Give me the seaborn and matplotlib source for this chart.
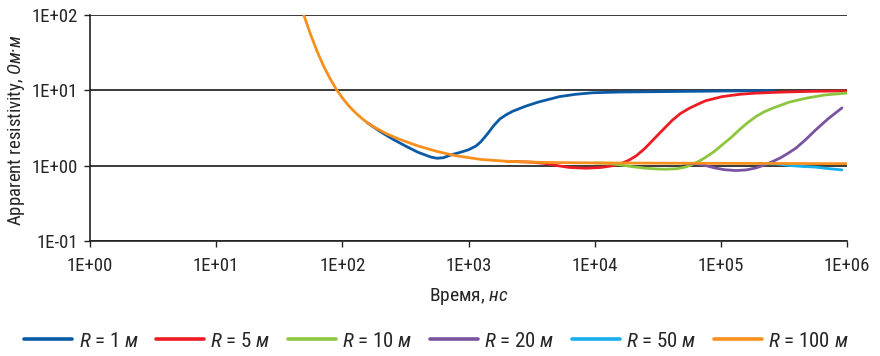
import numpy as np
import pandas as pd
import matplotlib
matplotlib.use("Agg")
import matplotlib.pyplot as plt
import matplotlib.ticker as mticker
import seaborn as sns

# time (ns) and apparent resistivity (Ohm*m)
t_r100 = [49.4, 56.2, 63.1, 70.8, 79.4, 89.1, 100, 112, 126, 141, 158, 178, 224, 282, 398, 562, 794,
          1259, 1995, 3981, 10000, 1e5, 1e6]
rho_r100 = [100, 53.7, 32.7, 21.1, 14.5, 10.4, 7.9, 6.24, 5.09, 4.29, 3.69, 3.25, 2.64, 2.24, 1.82, 1.54, 1.35,
            1.205, 1.14, 1.10, 1.084, 1.07, 1.06]

t_r1 = [158, 200, 251, 316, 398, 501, 562, 631, 741, 851, 1000, 1148, 1259, 1413, 1585, 1778, 1995, 2239,
        2818, 3548, 5248, 7079, 9661, 15849, 32359, 100000, 263000]
rho_r1 = [3.69, 2.82, 2.24, 1.82, 1.50, 1.30, 1.25, 1.27, 1.40, 1.49, 1.62, 1.82, 2.09, 2.63, 3.39, 4.17, 4.73, 5.25,
          6.10, 6.92, 8.20, 8.81, 9.23, 9.44, 9.55, 9.73, 9.84]

t_r5 = [1995, 3162, 3981, 5012, 6310, 8511, 11220, 14125, 15849, 18621, 21380, 25119, 30620, 35481, 41495,
        47863, 56234, 66069, 75858, 102329, 141254, 188365, 316228, 562341, 1e6]
rho_r5 = [1.14, 1.11, 1.07, 1.0, 0.944, 0.923, 0.944, 1.0, 1.047, 1.175, 1.349, 1.70, 2.40, 3.09, 4.03,
          4.90, 5.75, 6.53, 7.24, 8.20, 8.81, 9.12, 9.44, 9.66, 9.77]

t_r10 = [10000, 12589, 15849, 19953, 25119, 31623, 36728, 44668, 52481, 60256, 67608, 75858, 89125, 102329,
         120226, 139959, 162181, 189671, 218776, 257040, 346737, 473151, 660693, 1e6]
rho_r10 = [1.084, 1.072, 1.023, 0.966, 0.923, 0.900, 0.895, 0.908, 0.955, 1.047, 1.148, 1.288, 1.549, 1.879,
           2.344, 2.972, 3.673, 4.457, 5.129, 5.754, 6.918, 7.816, 8.610, 9.16]

t_r20 = [50119, 63096, 75858, 89125, 107152, 131826, 158489, 190546, 223872, 257040, 295121, 338844, 392645,
         467735, 562341, 707946, 912011]
rho_r20 = [1.072, 1.059, 1.0, 0.933, 0.881, 0.859, 0.875, 0.933, 1.023, 1.130, 1.259, 1.445, 1.698,
           2.188, 2.951, 4.169, 5.81]

t_r50 = [199526, 281838, 354813, 446684, 562341, 707946, 912011]
rho_r50 = [1.07, 1.047, 1.0, 0.973, 0.955, 0.912, 0.877]

series_labels = [r"$\mathit{R}$ = 1 $\mathit{м}$", r"$\mathit{R}$ = 5 $\mathit{м}$",
                 r"$\mathit{R}$ = 10 $\mathit{м}$", r"$\mathit{R}$ = 20 $\mathit{м}$",
                 r"$\mathit{R}$ = 50 $\mathit{м}$", r"$\mathit{R}$ = 100 $\mathit{м}$"]
colors = ["#0b5aa6", "#ed1c24", "#8cc63e", "#7a52a0", "#17b0ec", "#f7901e"]

all_t = [t_r1, t_r5, t_r10, t_r20, t_r50, t_r100]
all_rho = [rho_r1, rho_r5, rho_r10, rho_r20, rho_r50, rho_r100]
frames = []
for lab, tt, rr in zip(series_labels, all_t, all_rho):
    frames.append(pd.DataFrame({"t": tt, "rho": rr, "series": lab}))
df = pd.concat(frames, ignore_index=True)

sns.set_theme(style="white")
plt.rcParams["font.family"] = ["Roboto Condensed", "Liberation Sans", "DejaVu Sans"]
plt.rcParams["mathtext.fontset"] = "custom"
plt.rcParams["mathtext.rm"] = "Roboto Condensed"
plt.rcParams["mathtext.it"] = "Roboto Condensed:italic"

fig, ax = plt.subplots(figsize=(8.8, 3.56), dpi=100)
fig.subplots_adjust(left=0.1023, right=0.9625, top=0.9587, bottom=0.323)

sns.lineplot(data=df, x="t", y="rho", hue="series", hue_order=series_labels,
             palette=dict(zip(series_labels, colors)), linewidth=2.0, ax=ax)

ax.set_xscale("log")
ax.set_yscale("log")
ax.set_xlim(1, 1e6)
ax.set_ylim(0.1, 100)

fmt = mticker.FuncFormatter(lambda v, p: "1E{:+03d}".format(int(round(np.log10(v)))))
ax.xaxis.set_major_locator(mticker.LogLocator(base=10, numticks=10))
ax.yaxis.set_major_locator(mticker.LogLocator(base=10, numticks=10))
ax.xaxis.set_minor_locator(mticker.NullLocator())
ax.yaxis.set_minor_locator(mticker.NullLocator())
ax.xaxis.set_major_formatter(fmt)
ax.yaxis.set_major_formatter(fmt)
ax.tick_params(axis="both", which="major", labelsize=13.5, length=4.5, width=1,
               color="#222222", direction="out", bottom=True, left=True, pad=4)
ax.tick_params(axis="x", pad=7)

ax.yaxis.grid(True, color="#2a2a2a", linewidth=1.3)
ax.set_axisbelow(True)
for s in ["top", "right"]:
    ax.spines[s].set_visible(False)
for s in ["left", "bottom"]:
    ax.spines[s].set_color("#222222")
    ax.spines[s].set_linewidth(1.2)

ax.set_xlabel(r"Время, $\mathit{нс}$", fontsize=14, labelpad=8)
ax.set_ylabel(r"Apparent resistivity, $\mathit{Ом·м}$", fontsize=13.5)
ax.yaxis.set_label_coords(-0.083, 0.49)

sns.move_legend(ax, "center", bbox_to_anchor=(0.458, -0.442), ncol=6, frameon=False,
                title=None, fontsize=15, handlelength=2.3, handletextpad=0.3,
                columnspacing=0.85, borderaxespad=0.0)
for line in ax.get_legend().get_lines():
    line.set_linewidth(2.6)

fig.savefig("out.png", dpi=100)
